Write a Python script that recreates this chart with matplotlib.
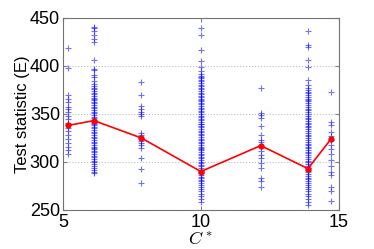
import matplotlib
matplotlib.use("Agg")
import matplotlib.pyplot as plt

plt.rcParams['font.family'] = ['Liberation Sans', 'DejaVu Sans']
plt.rcParams['mathtext.fontset'] = 'cm'

# column positions (C*) and the sampled test statistic values
c_star = [5.18, 6.13, 7.84, 10.0, 12.17, 13.88, 14.72]

col1 = [419, 398, 370, 366, 362, 357, 355, 352, 348, 345, 341, 338, 335,
        332, 328, 324, 320, 316, 312, 308]
col2 = [441, 439, 436, 432, 428, 425, 406, 397, 396, 391, 388, 384, 381,
        379, 377, 376, 374, 372, 371, 369, 367, 366, 364, 362, 361, 359,
        357, 356, 354, 352, 351, 349, 347, 346, 344, 343, 341, 340, 338,
        336, 335, 333, 331, 330, 328, 326, 325, 323, 321, 320, 318, 316,
        315, 313, 311, 310, 308, 306, 305, 303, 301, 300, 298, 296, 294,
        292, 290, 288]
col3 = [383, 370, 358, 355, 352, 350, 348, 330, 328, 325, 322, 320, 318,
        314, 304, 293, 278]
col4 = [440, 432, 417, 405, 399, 395, 392, 390, 388, 387, 385, 384, 382,
        380, 379, 377, 376, 374, 372, 371, 369, 368, 366, 364, 363, 361,
        360, 358, 356, 355, 353, 352, 350, 348, 347, 345, 344, 342, 340,
        339, 337, 336, 334, 332, 331, 329, 328, 326, 324, 323, 321, 320,
        318, 316, 315, 313, 312, 310, 308, 307, 305, 304, 302, 300, 299,
        297, 296, 294, 292, 291, 289, 288, 286, 284, 283, 281, 280, 278,
        276, 274, 272, 270, 267, 264, 261, 258]
col5 = [377, 351, 349, 346, 337, 328, 323, 321, 316, 311, 307, 304, 299,
        294, 283, 280, 274]
col6 = [436, 422, 420, 406, 399, 385, 380, 377, 375, 373, 372, 370, 368,
        366, 364, 363, 361, 359, 357, 355, 354, 352, 350, 348, 346, 345,
        343, 341, 339, 337, 336, 334, 332, 330, 328, 327, 325, 323, 321,
        319, 318, 316, 314, 312, 310, 309, 307, 305, 303, 301, 300, 298,
        296, 294, 292, 291, 289, 287, 285, 283, 282, 280, 278, 276, 274,
        272, 270, 267, 264, 261, 258, 255]
col7 = [373, 342, 338, 331, 327, 323, 318, 313, 308, 302, 296, 290, 286,
        274, 270, 259]

samples = [col1, col2, col3, col4, col5, col6, col7]
mean_stat = [338, 343, 325, 290, 317, 293, 324]

fig = plt.figure(figsize=(3.74, 2.49), dpi=100)
ax = fig.add_axes([0.168, 0.157, 0.738, 0.771])

for x, vals in zip(c_star, samples):
    ax.plot([x] * len(vals), vals, linestyle='none', marker='+',
            color='blue', markersize=4, markeredgewidth=0.8, alpha=0.55)

ax.plot(c_star, mean_stat, color='red', linewidth=1.2, marker='o',
        markersize=3.5)

ax.set_xlim(5, 15)
ax.set_ylim(250, 450)
ax.set_xticks([5, 10, 15])
ax.set_yticks([250, 300, 350, 400, 450])
ax.yaxis.grid(True, linestyle=':', color='0.75', linewidth=0.8)
ax.tick_params(direction='in', top=True, right=True, labelsize=13,
               length=3, color='0.5')
ax.tick_params(axis='x', pad=3)
ax.tick_params(axis='y', pad=2)
for s in ax.spines.values():
    s.set_color('0.45')

ax.set_xlabel('$C^*$', fontsize=13, labelpad=0)
ax.set_ylabel('Test statistic (E)', fontsize=12, labelpad=0)

fig.savefig('out.png', dpi=100)
